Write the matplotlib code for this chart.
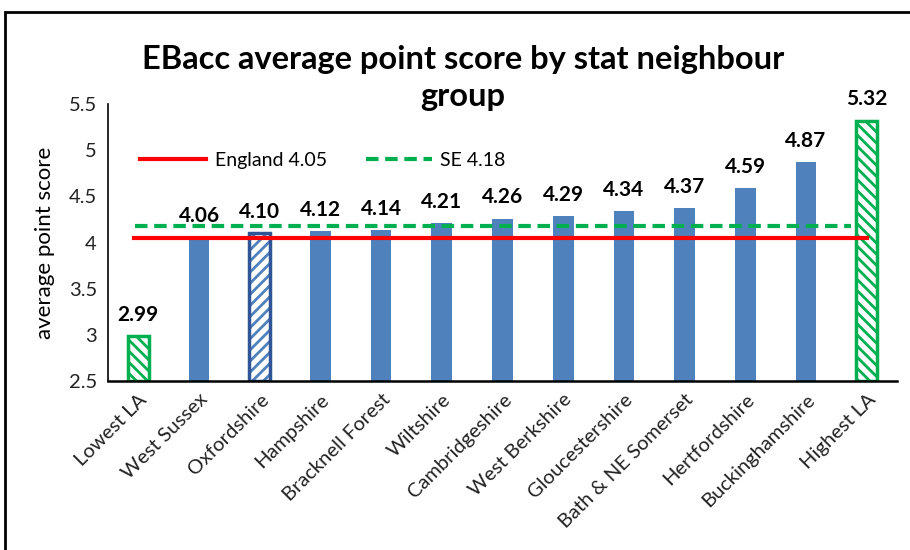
import matplotlib
matplotlib.use("Agg")
import matplotlib.pyplot as plt
from matplotlib.patches import Rectangle

# data
areas = ["Lowest LA", "West Sussex", "Oxfordshire", "Hampshire", "Bracknell Forest",
         "Wiltshire", "Cambridgeshire", "West Berkshire", "Gloucestershire",
         "Bath & NE Somerset", "Hertfordshire", "Buckinghamshire", "Highest LA"]
scores = [2.99, 4.06, 4.10, 4.12, 4.14, 4.21, 4.26, 4.29, 4.34, 4.37, 4.59, 4.87, 5.32]
england = 4.05
se = 4.18

plt.rcParams['font.family'] = ['Lato', 'DejaVu Sans']
plt.rcParams['hatch.linewidth'] = 2.0

blue = "#4F81BD"
dark_blue = "#2F5597"
green = "#00B050"

fig = plt.figure(figsize=(9.1, 5.5), dpi=100)
ax = fig.add_axes([0.1187, 0.307, 0.867, 0.504])

x = list(range(len(areas)))
w = 0.34
for i, (name, v) in enumerate(zip(areas, scores)):
    if name in ("Lowest LA", "Highest LA"):
        ax.bar(i, v - 2.5, bottom=2.5, width=w, color="white", edgecolor=green,
               hatch="\\\\\\", linewidth=2.5, zorder=2)
    elif name == "Oxfordshire":
        ax.bar(i, v - 2.5, bottom=2.5, width=w, color="white", edgecolor=blue,
               hatch="///", linewidth=0, zorder=2)
        ax.bar(i, v - 2.5, bottom=2.5, width=w, fill=False, edgecolor=dark_blue,
               linewidth=2.5, zorder=2)
    else:
        ax.bar(i, v - 2.5, bottom=2.5, width=w, color=blue, zorder=2)
    ax.annotate(f"{v:.2f}", (i, v), xytext=(0, 8), textcoords="offset points",
                ha="center", va="bottom", fontsize=15, fontweight="bold")

ax.plot([-0.08, 12], [england, england], color="red", lw=3,
        label=f"England {england:.2f}", zorder=3)
ax.plot([-0.05, 11.75], [se, se], color=green, lw=3, ls=(0, (3, 1.6)),
        label=f"SE {se:.2f}", zorder=3)

ax.set_xlim(-0.5, 12.5)
ax.set_ylim(2.5, 5.5)
ax.set_yticks([2.5, 3, 3.5, 4, 4.5, 5, 5.5])
ax.set_yticklabels(["2.5", "3", "3.5", "4", "4.5", "5", "5.5"])
ax.set_xticks(x)
ax.set_xticklabels(areas, rotation=45, ha="right", rotation_mode="anchor")
ax.tick_params(axis="both", length=0, labelsize=14.5, colors="#222222")
ax.tick_params(axis="y", pad=8)
ax.tick_params(axis="x", pad=7)
ax.set_ylabel("average point score", fontsize=16, labelpad=10)
for s in ("top", "right"):
    ax.spines[s].set_visible(False)
ax.spines["left"].set_linewidth(1.2)
ax.spines["bottom"].set_linewidth(1.8)

ax.legend(loc="center left", bbox_to_anchor=(0.018, 0.795), ncol=2, frameon=False,
          fontsize=14, handlelength=3.4, columnspacing=2.0, handletextpad=0.45)

fig.text(0.509, 0.858, "EBacc average point score by stat neighbour\ngroup",
         ha="center", va="center", fontsize=23.5, fontweight="bold", linespacing=1.3)

# outer chart frame
fig.patches.append(Rectangle((5 / 910, -0.1), 1.2, 1 - 12 / 550 + 0.1,
                             transform=fig.transFigure, fill=False,
                             edgecolor="black", lw=2))

fig.savefig("out.png", dpi=100)
